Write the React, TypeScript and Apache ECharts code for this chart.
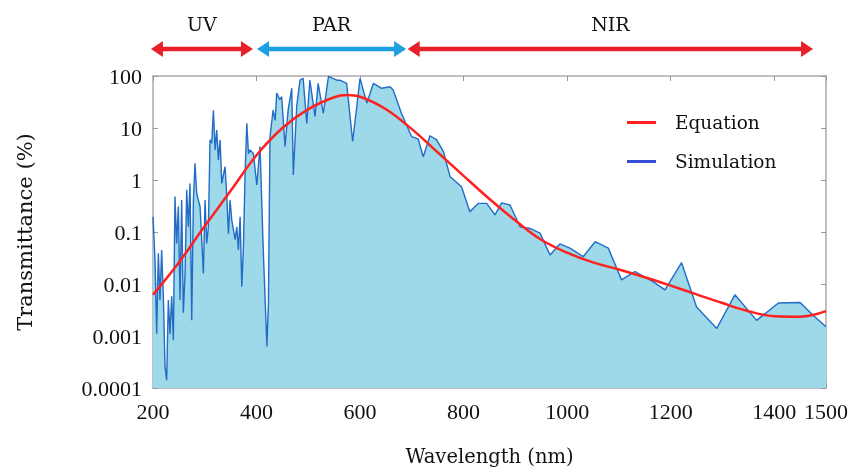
import { useEffect, useRef } from 'react';
import * as echarts from 'echarts';

// Simulation spectrum (wavelength nm, transmittance %)
const simWavelength = [200, 203.9, 207.1, 210.3, 213.5, 216.7, 220, 223.2, 226.4, 229.6, 232.8, 236.1, 239.3, 242.5, 245.7, 249, 252.2, 255.4, 258.6, 261.9, 265.1, 268.3, 271.5, 274.8, 278, 281.2, 284.4, 287.6, 290.9, 294.1, 297.3, 300.5, 303.8, 307, 310.2, 313.4, 316.7, 319.9, 323.1, 326.3, 329.6, 332.8, 339.2, 342.5, 345.7, 348.9, 352.1, 355.4, 358.6, 361.8, 365, 368.3, 371.5, 374.7, 377.9, 381.2, 384.4, 387.6, 394, 400.5, 406.7, 413, 420, 423, 426, 432, 436, 439, 445, 448.6, 455, 461, 468, 471, 477.6, 484, 490, 497, 503, 513, 519, 529, 539, 555, 561, 574, 585.7, 600, 613, 625.6, 641.7, 657.8, 664, 680, 699.7, 712, 722, 735, 748, 761, 774, 796, 812, 828, 844.5, 860.6, 873.5, 889.6, 909, 928, 947.5, 967, 986, 1005.5, 1031, 1054, 1079.5, 1105, 1131, 1166.5, 1189, 1221, 1250, 1289, 1324, 1366, 1408, 1450, 1475, 1500];
const simTransmittance = [0.197, 0.029, 0.0011, 0.039, 0.0049, 0.045, 0.0058, 0.00026, 0.00014, 0.0049, 0.0011, 0.0058, 0.00083, 0.48, 0.06, 0.31, 0.0049, 0.41, 0.0028, 0.016, 0.65, 0.126, 0.86, 0.002, 0.41, 2.1, 0.55, 0.41, 0.31, 0.071, 0.016, 0.41, 0.06, 0.126, 5.9, 5.1, 22, 3.8, 9.1, 2.4, 5.9, 0.86, 1.8, 0.48, 0.093, 0.41, 0.17, 0.11, 0.071, 0.126, 0.045, 0.197, 0.0089, 0.052, 1.35, 12.3, 3.2, 3.8, 3.2, 0.8, 4.4, 0.045, 0.00063, 0.0043, 6.8, 22, 14, 47, 35, 40, 4.4, 22, 58, 1.25, 26, 83, 90, 12.3, 83, 16.6, 72, 19, 98, 83, 83, 72, 5.5, 90, 30, 72, 58, 62, 54, 19, 6.8, 6.2, 2.8, 7.1, 5.9, 3.5, 1.15, 0.74, 0.245, 0.355, 0.355, 0.214, 0.363, 0.33, 0.126, 0.117, 0.095, 0.036, 0.059, 0.049, 0.0335, 0.065, 0.049, 0.012, 0.0174, 0.011, 0.0077, 0.0257, 0.0036, 0.0014, 0.0062, 0.002, 0.0043, 0.0044, 0.0025, 0.0015];

// Equation curve
const eqWavelength = [200, 250, 300, 350, 400, 450, 500, 550, 575, 600, 650, 700, 750, 800, 850, 900, 950, 1000, 1050, 1100, 1150, 1200, 1250, 1300, 1350, 1400, 1450, 1500];
const eqTransmittance = [0.0062, 0.026, 0.13, 0.62, 3.0, 10, 23, 39, 43, 40, 23, 9.5, 3.4, 1.2, 0.43, 0.166, 0.071, 0.040, 0.026, 0.019, 0.0135, 0.0093, 0.0063, 0.0043, 0.0030, 0.0024, 0.00235, 0.0030];

// Spectral bands
const bandNames = ['UV', 'PAR', 'NIR'];
const bandStart = [196, 401, 692];
const bandEnd = [393, 689, 1475];

const xMin = 200;
const xMax = 1500;
const xStep = 200;
const yMin = 0.0001;
const yMax = 100;

const bandColors = ['#e8202a', '#1ea0e0', '#e8202a'];
const serifText = '"DejaVu Serif", serif';
const serifNum = '"Liberation Serif", serif';

export default function App() {
  const ref = useRef<HTMLDivElement>(null);
  useEffect(() => {
    if (!ref.current) return;
    const chart = echarts.init(ref.current, undefined, { renderer: 'svg' });
    const fmtY = (v: number) => {
      const e = Math.round(Math.log10(v));
      return e >= 0 ? String(Math.pow(10, e)) : Math.pow(10, e).toFixed(-e);
    };
    const tickStyle = { show: true, inside: true, length: 5, lineStyle: { color: '#999', width: 1 } };
    const lineStyle = { show: true, lineStyle: { color: '#aaa', width: 1.5 } };
    chart.setOption({
      animation: false,
      grid: { left: 153, right: 28, top: 76, bottom: 85, containLabel: false },
      legend: {
        orient: 'vertical',
        left: 622,
        top: 108,
        itemWidth: 29,
        itemHeight: 3,
        itemGap: 20,
        icon: 'rect',
        textStyle: { fontFamily: serifText, fontSize: 18.5, color: '#111', padding: [0, 0, 0, 14] },
        data: [
          { name: 'Equation', itemStyle: { color: '#ff2020' } },
          { name: 'Simulation', itemStyle: { color: '#3a4fd6' } },
        ],
      },
      xAxis: [
        {
          type: 'value', min: xMin, max: xMax, interval: xStep,
          name: 'Wavelength (nm)', nameLocation: 'middle', nameGap: 58,
          nameTextStyle: { fontFamily: serifText, fontSize: 19.5, color: '#111' },
          axisLine: lineStyle, axisTick: tickStyle, splitLine: { show: false },
          axisLabel: {
            fontFamily: serifNum, fontSize: 22, color: '#111', margin: 12, showMaxLabel: true,
            formatter: (v: number) => String(v),
          },
        },
        {
          type: 'value', position: 'top', min: xMin, max: xMax, interval: xStep,
          axisLine: lineStyle, axisTick: tickStyle, splitLine: { show: false }, axisLabel: { show: false },
        },
      ],
      yAxis: [
        {
          type: 'log', logBase: 10, min: yMin, max: yMax,
          name: 'Transmittance (%)', nameLocation: 'middle', nameGap: 118,
          nameTextStyle: { fontFamily: serifText, fontSize: 21, color: '#111' },
          axisLine: lineStyle, axisTick: tickStyle, splitLine: { show: false }, minorTick: { show: false },
          axisLabel: { fontFamily: serifNum, fontSize: 22, color: '#111', margin: 11, formatter: fmtY },
        },
        {
          type: 'log', logBase: 10, min: yMin, max: yMax, position: 'right',
          axisLine: lineStyle, axisTick: tickStyle, splitLine: { show: false }, axisLabel: { show: false },
        },
      ],
      series: [
        {
          name: 'Simulation',
          type: 'line',
          data: simWavelength.map((w, i) => [w, simTransmittance[i]]),
          symbol: 'none',
          lineStyle: { color: '#226cc6', width: 1.4 },
          itemStyle: { color: '#3a4fd6' },
          areaStyle: { color: '#9dd9e9', opacity: 1, origin: 'start' },
          z: 2,
        },
        {
          name: 'Equation',
          type: 'line',
          data: eqWavelength.map((w, i) => [w, eqTransmittance[i]]),
          symbol: 'none',
          smooth: 0.4,
          lineStyle: { color: '#ff2020', width: 2.5 },
          itemStyle: { color: '#ff2020' },
          z: 3,
        },
      ],
    });

    const arrowY = 49;
    const head = 12;
    const half = 8;
    const graphics: any[] = [];
    bandNames.forEach((name, i) => {
      const x0 = chart.convertToPixel({ xAxisIndex: 0 }, bandStart[i]) as number;
      const x1 = chart.convertToPixel({ xAxisIndex: 0 }, bandEnd[i]) as number;
      const c = bandColors[i];
      graphics.push({
        type: 'line',
        shape: { x1: x0 + head - 1, y1: arrowY, x2: x1 - head + 1, y2: arrowY },
        style: { stroke: c, lineWidth: 4.5 },
      });
      graphics.push({
        type: 'polygon',
        shape: { points: [[x0, arrowY], [x0 + head, arrowY - half], [x0 + head, arrowY + half]] },
        style: { fill: c },
      });
      graphics.push({
        type: 'polygon',
        shape: { points: [[x1, arrowY], [x1 - head, arrowY - half], [x1 - head, arrowY + half]] },
        style: { fill: c },
      });
      graphics.push({
        type: 'text',
        x: (x0 + x1) / 2,
        y: 24,
        style: {
          text: name, fill: '#111', font: '19px "DejaVu Serif", serif',
          align: 'center', verticalAlign: 'middle',
        },
      });
    });
    chart.setOption({ graphic: graphics });
    return () => chart.dispose();
  }, []);
  return <div ref={ref} style={{ position: 'fixed', left: 0, top: 0, width: 854, height: 473 }} />;
}
